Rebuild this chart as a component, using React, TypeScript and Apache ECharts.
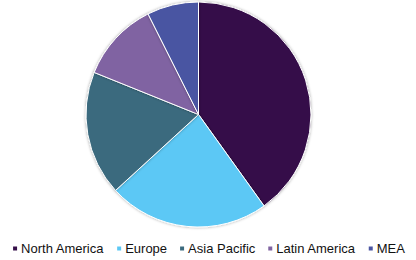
import React, { useEffect, useRef } from "react";
import * as echarts from "echarts";

const categories = ["North America", "Europe", "Asia Pacific", "Latin America", "MEA"];
const values = [40.1, 23.1, 17.9, 11.5, 7.4];
const colors = ["#36104a", "#5bc8f5", "#3b6a7e", "#8064a2", "#4a55a2"];

export default function App() {
  const ref = useRef<HTMLDivElement>(null);
  useEffect(() => {
    if (!ref.current) return;
    const chart = echarts.init(ref.current, undefined, { renderer: "svg" });
    chart.setOption({
      animation: false,
      color: colors,
      legend: {
        data: categories,
        left: "center",
        top: 237,
        icon: "rect",
        itemWidth: 6,
        itemHeight: 6,
        itemGap: 11,
        textStyle: {
          fontFamily: "'Liberation Sans', Arial, sans-serif",
          fontSize: 13,
          color: "#111111",
          padding: [0, 0, 0, -2],
        },
      },
      series: [
        {
          type: "pie",
          center: [198.5, 114.5],
          radius: 112.5,
          startAngle: 90,
          clockwise: true,
          label: { show: false },
          labelLine: { show: false },
          emphasis: { disabled: true },
          itemStyle: {
            borderColor: "#ffffff",
            borderWidth: 1,
            shadowBlur: 3,
            shadowColor: "rgba(0,0,0,0.35)",
          },
          data: categories.map((name, i) => ({ name, value: values[i] })),
        },
      ],
    });
    return () => chart.dispose();
  }, []);
  return (
    <div
      ref={ref}
      style={{ position: "fixed", left: 0, top: 0, width: 416, height: 260, background: "#fff" }}
    />
  );
}
